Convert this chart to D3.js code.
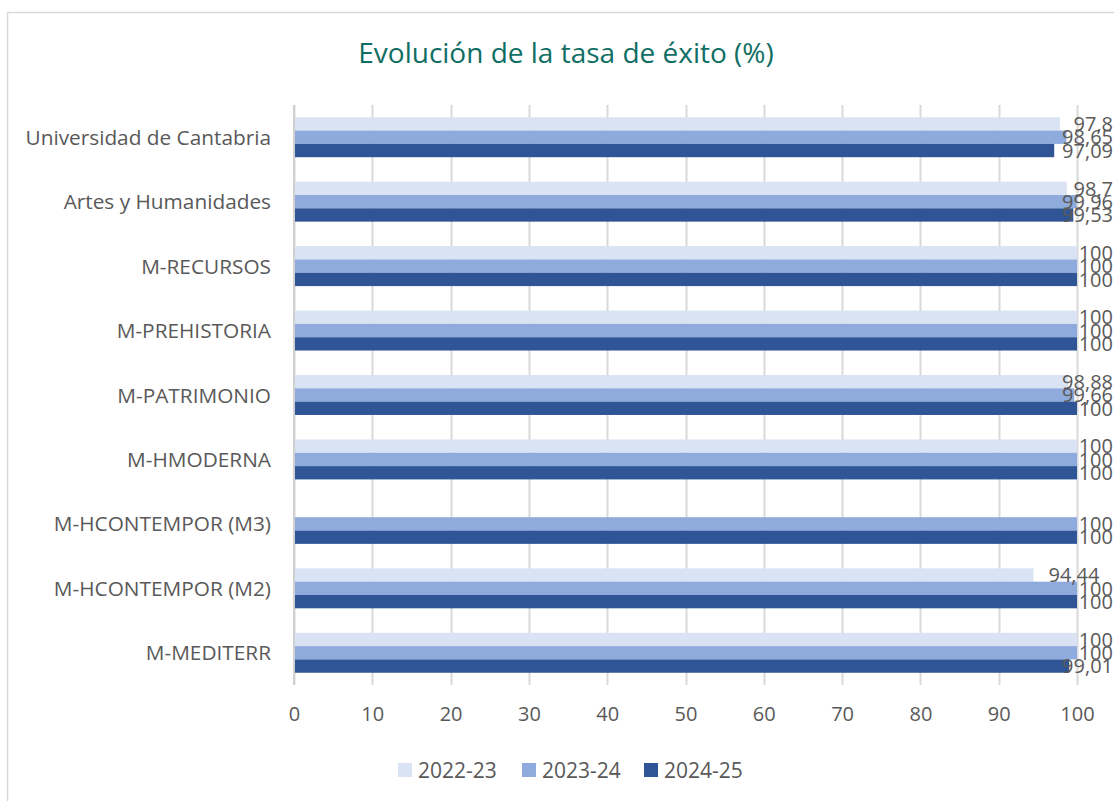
<!DOCTYPE html>
<html>
<head>
<meta charset="utf-8">
<script src="https://cdn.jsdelivr.net/npm/d3@7"></script>
<style>
  html, body { margin: 0; padding: 0; background: #fff; }
  svg { display: block; }
  text { font-family: "Open Sans", "Noto Sans", sans-serif; }
</style>
</head>
<body>
<svg id="chart" width="1114" height="801"></svg>
<script>
// ---- data ----
const categories = [
  "Universidad de Cantabria",
  "Artes y Humanidades",
  "M-RECURSOS",
  "M-PREHISTORIA",
  "M-PATRIMONIO",
  "M-HMODERNA",
  "M-HCONTEMPOR (M3)",
  "M-HCONTEMPOR (M2)",
  "M-MEDITERR"
];
const seriesNames = ["2022-23", "2023-24", "2024-25"];
const values2022 = [97.8, 98.7, 100, 100, 98.88, 100, null, 94.44, 100];
const values2023 = [98.65, 99.96, 100, 100, 99.66, 100, 100, 100, 100];
const values2024 = [97.09, 99.53, 100, 100, 100, 100, 100, 100, 99.01];
const xTicks = [0, 10, 20, 30, 40, 50, 60, 70, 80, 90, 100];
const colors = ["#DAE3F3", "#8FAADC", "#2F5597"];

const seriesValues = [values2022, values2023, values2024];

// ---- layout ----
const W = 1114, H = 801;
const svg = d3.select("#chart");
const textColor = "#595959";
const gridColor = "#D9D9D9";
const FONT = '"Open Sans", "Noto Sans", sans-serif';

// chart area border (extends beyond the visible canvas on right/bottom)
svg.append("rect")
  .attr("x", 7.5).attr("y", 12.5)
  .attr("width", 1200).attr("height", 900)
  .attr("fill", "none").attr("stroke", "#D9D9D9").attr("stroke-width", 1.5);

const plot = { left: 294, right: 1077, top: 105, bottom: 685 };

const x = d3.scaleLinear().domain([0, 100]).range([plot.left, plot.right]);
const y = d3.scaleBand().domain(categories).range([plot.top, plot.bottom]).paddingInner(0.38).paddingOuter(0.19);
const ySub = d3.scaleBand().domain(d3.range(seriesNames.length)).range([0, y.bandwidth()]);

// title
svg.append("text")
  .attr("x", 566).attr("y", 63)
  .attr("text-anchor", "middle")
  .attr("fill", "#0F6E64")
  .style("font-size", "28px")
  .text("Evolución de la tasa de éxito (%)");

// gridlines
svg.append("g").selectAll("line").data(xTicks).join("line")
  .attr("x1", d => Math.round(x(d)) + 0.5).attr("x2", d => Math.round(x(d)) + 0.5)
  .attr("y1", plot.top).attr("y2", plot.bottom)
  .attr("stroke", gridColor).attr("stroke-width", 2);

// x axis labels (via d3 axis, domain & ticks hidden)
const xAxis = svg.append("g")
  .attr("transform", `translate(0,${plot.bottom + 22})`)
  .call(d3.axisBottom(x).tickValues(xTicks).tickSize(0).tickPadding(0).tickFormat(d3.format("d")));
xAxis.select(".domain").remove();
xAxis.selectAll("text")
  .attr("fill", textColor)
  .attr("dy", "0.71em")
  .style("font-size", "20px")
  .style("font-family", FONT);

// y axis labels
const yAxis = svg.append("g")
  .attr("transform", `translate(${plot.left},0)`)
  .call(d3.axisLeft(y).tickSize(0).tickPadding(23));
yAxis.select(".domain").remove();
yAxis.selectAll("text")
  .attr("fill", textColor)
  .attr("dy", "0.36em")
  .style("font-size", "20.8px")
  .style("font-family", FONT);

// bars
const groups = svg.append("g").selectAll("g").data(categories).join("g")
  .attr("transform", d => `translate(0,${y(d)})`);

groups.each(function(cat, ci) {
  const g = d3.select(this);
  seriesValues.forEach((vals, si) => {
    const v = vals[ci];
    if (v == null) return;
    g.append("rect")
      .attr("x", x(0))
      .attr("y", ySub(si))
      .attr("width", x(v) - x(0))
      .attr("height", ySub.bandwidth())
      .attr("fill", colors[si]);
  });
});

// vertical axis line
svg.append("line")
  .attr("x1", x(0)).attr("x2", x(0))
  .attr("y1", plot.top).attr("y2", plot.bottom)
  .attr("stroke", "#D0D0D0").attr("stroke-width", 2);

// data labels (shifted left to stay inside the chart area, as Excel does)
const fmt = v => String(v).replace(".", ",");
const labelLimit = W - 1;
groups.each(function(cat, ci) {
  const g = d3.select(this);
  seriesValues.forEach((vals, si) => {
    const v = vals[ci];
    if (v == null) return;
    const t = g.append("text")
      .attr("y", ySub(si) + ySub.bandwidth() / 2)
      .attr("dy", "0.36em")
      .attr("fill", textColor)
      .style("font-size", "20px")
      .text(fmt(v));
    const w = t.node().getComputedTextLength();
    t.attr("x", Math.min(x(v) + 15, labelLimit - w));
  });
});

// legend
const legendX = [398, 522, 644];
const legend = svg.append("g").selectAll("g").data(seriesNames).join("g")
  .attr("transform", (d, i) => `translate(${legendX[i]},763)`);
legend.append("rect").attr("width", 14).attr("height", 14).attr("fill", (d, i) => colors[i]);
legend.append("text")
  .attr("x", 20).attr("y", 7).attr("dy", "0.36em")
  .attr("fill", textColor)
  .style("font-size", "21px")
  .text(d => d);
</script>
</body>
</html>
